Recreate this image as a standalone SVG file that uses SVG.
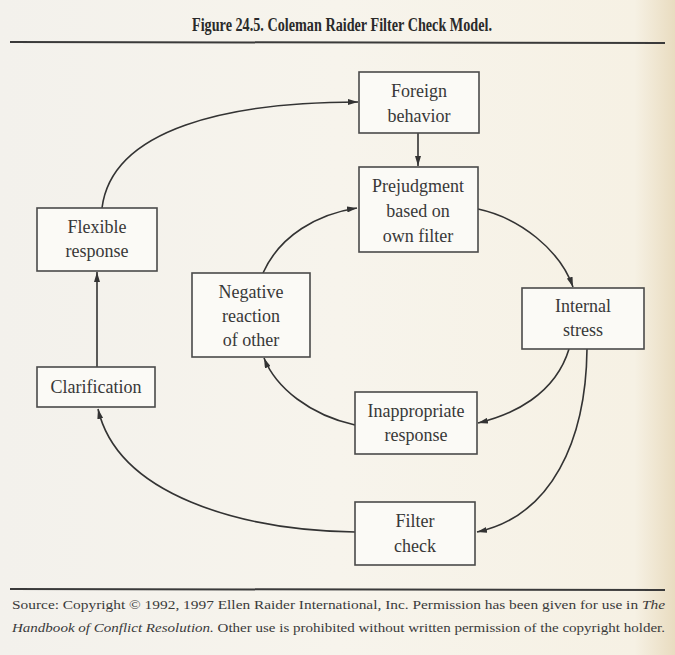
<svg xmlns="http://www.w3.org/2000/svg" width="675" height="655" viewBox="0 0 675 655">
  <defs>
    <linearGradient id="bg" x1="0" y1="0" x2="1" y2="0">
      <stop offset="0" stop-color="#f3f1ec"/>
      <stop offset="0.5" stop-color="#f7f4ec"/>
      <stop offset="0.94" stop-color="#f6f1e4"/>
      <stop offset="1" stop-color="#e9dcc0"/>
    </linearGradient>
    <marker id="arr" viewBox="0 0 10 6" refX="10" refY="3" markerWidth="10" markerHeight="6" markerUnits="userSpaceOnUse" orient="auto">
      <path d="M0,0 L10,3 L0,6 Z" fill="#333"/>
    </marker>
    <style>
      .box { fill: #fbfaf6; stroke: #4a4a4a; stroke-width: 1.6; }
      .lbl { font-family: "Liberation Serif", "DejaVu Serif", serif; font-size: 18px; fill: #383838; text-anchor: middle; }
      .con { fill: none; stroke: #333; stroke-width: 1.6; marker-end: url(#arr); }
      .rule { stroke: #3a3a3a; stroke-width: 2; }
      .title { font-family: "Liberation Serif", "DejaVu Serif", serif; font-size: 18px; font-weight: bold; fill: #2a2a2a; }
      .src { font-family: "Liberation Serif", "DejaVu Serif", serif; font-size: 12.5px; fill: #3a3a3a; }
    </style>
  </defs>

  <rect x="0" y="0" width="675" height="655" fill="url(#bg)"/>

  <text class="title" x="192" y="31" textLength="300" lengthAdjust="spacingAndGlyphs">Figure 24.5.  Coleman Raider Filter Check Model.</text>
  <line class="rule" x1="10" y1="42" x2="665" y2="43"/>

  <g id="connectors">
    <path class="con" d="M102,208 C112,128 230,102 358,102"/>
    <path class="con" d="M418,133 L418,166"/>
    <path class="con" d="M478,209 C520,218 560,250 573,287"/>
    <path class="con" d="M263,273 C280,235 318,214 357,208"/>
    <path class="con" d="M569,349 C555,395 512,415 478,423"/>
    <path class="con" d="M355,425 C310,415 276,388 264,358"/>
    <path class="con" d="M587,349 C586,440 552,516 477,532"/>
    <path class="con" d="M355,532 C240,530 118,495 98,409"/>
    <path class="con" d="M97,367 L97,272"/>
  </g>

  <g id="foreign-behavior">
    <rect class="box" x="359" y="72" width="120" height="61"/>
    <text class="lbl" x="419" y="97">Foreign</text>
    <text class="lbl" x="419" y="122">behavior</text>
  </g>
  <g id="prejudgment">
    <rect class="box" x="359" y="167" width="119" height="85"/>
    <text class="lbl" x="418" y="192">Prejudgment</text>
    <text class="lbl" x="418" y="217">based on</text>
    <text class="lbl" x="418" y="242">own filter</text>
  </g>
  <g id="flexible-response">
    <rect class="box" x="37" y="208" width="120" height="63"/>
    <text class="lbl" x="97" y="233">Flexible</text>
    <text class="lbl" x="97" y="257">response</text>
  </g>
  <g id="negative-reaction">
    <rect class="box" x="192" y="273" width="118" height="84"/>
    <text class="lbl" x="251" y="298">Negative</text>
    <text class="lbl" x="251" y="322">reaction</text>
    <text class="lbl" x="251" y="346">of other</text>
  </g>
  <g id="clarification">
    <rect class="box" x="37" y="367" width="118" height="40"/>
    <text class="lbl" x="96" y="393">Clarification</text>
  </g>
  <g id="internal-stress">
    <rect class="box" x="522" y="288" width="122" height="61"/>
    <text class="lbl" x="583" y="312">Internal</text>
    <text class="lbl" x="583" y="336">stress</text>
  </g>
  <g id="inappropriate-response">
    <rect class="box" x="355" y="392" width="122" height="62"/>
    <text class="lbl" x="416" y="417">Inappropriate</text>
    <text class="lbl" x="416" y="441">response</text>
  </g>
  <g id="filter-check">
    <rect class="box" x="355" y="502" width="120" height="63"/>
    <text class="lbl" x="415" y="527">Filter</text>
    <text class="lbl" x="415" y="552">check</text>
  </g>

  <line class="rule" x1="10" y1="589" x2="665" y2="590"/>
  <text class="src" x="12" y="609" textLength="653" lengthAdjust="spacingAndGlyphs">Source: Copyright © 1992, 1997 Ellen Raider International, Inc. Permission has been given for use in <tspan font-style="italic">The</tspan></text>
  <text class="src" x="12" y="632" textLength="653" lengthAdjust="spacingAndGlyphs"><tspan font-style="italic">Handbook of Conflict Resolution.</tspan> Other use is prohibited without written permission of the copyright holder.</text>
</svg>
